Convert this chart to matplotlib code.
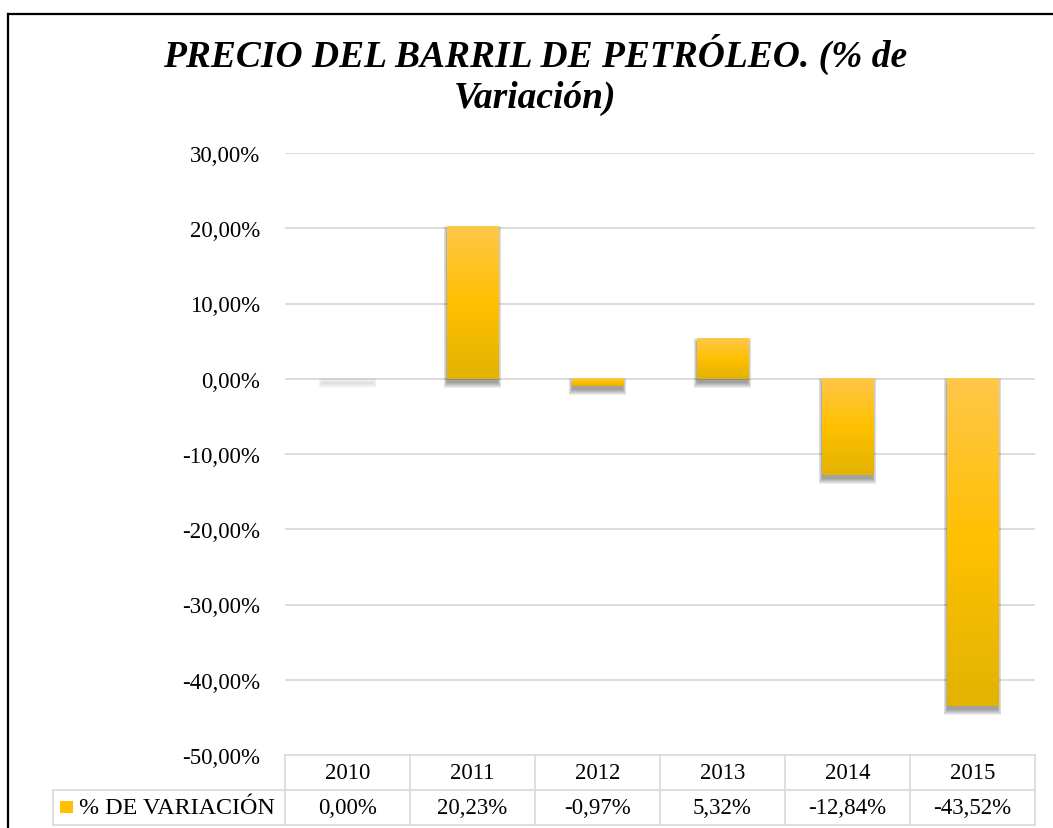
import numpy as np
import matplotlib
matplotlib.use("Agg")
import matplotlib.pyplot as plt
from matplotlib.patches import Rectangle
from matplotlib.colors import LinearSegmentedColormap
from matplotlib.lines import Line2D
import matplotlib.transforms as mtransforms

years = ["2010", "2011", "2012", "2013", "2014", "2015"]
variacion = [0.00, 20.23, -0.97, 5.32, -12.84, -43.52]
yticks = [30, 20, 10, 0, -10, -20, -30, -40, -50]
serie = "% DE VARIACIÓN"
titulo = "PRECIO DEL BARRIL DE PETRÓLEO. (% de\nVariación)"

W, H = 1053, 829
FS = 16.5
plt.rcParams['font.family'] = ['Liberation Serif', 'DejaVu Serif']

fig = plt.figure(figsize=(W / 100, H / 100), dpi=100)
fig.patch.set_facecolor("white")

# plot area in pixels
left, right, top, bottom = 285, 1035, 154, 756
ax = fig.add_axes([left / W, 1 - bottom / H, (right - left) / W, (bottom - top) / H])
for s in ax.spines.values():
    s.set_visible(False)
ax.set_xticks([])
ax.set_yticks(yticks)
ax.set_yticklabels([f"{v:.2f}%".replace(".", ",") for v in yticks], fontsize=FS)
ax.tick_params(axis="y", length=0, pad=18)
for v in yticks[:-1]:
    ax.axhline(v, color="#D9D9D9", lw=1.3, zorder=0)

gold = LinearSegmentedColormap.from_list("gold", ["#E2B300", "#FFC000", "#FFC74A"])
grad = np.linspace(0, 1, 256).reshape(-1, 1)

bw = 0.41
xpx = 1 / 125.0          # data units per pixel (x)
ypx = 80 / 602.0         # data units per pixel (y)
for i, v in enumerate(variacion):
    lo, hi = min(0, v), max(0, v)
    # soft drop shadow, shifted a few pixels down
    a = 0.07 if hi - lo > 0 else 0.025
    for k in range(0, 6):
        ax.add_patch(Rectangle((i - bw / 2 - 0.6 * k * xpx, lo - 4 * ypx - k * ypx),
                               bw + 1.2 * k * xpx, hi - lo + 2 * k * ypx,
                               facecolor="black", edgecolor="none", alpha=a, zorder=1))
    if hi - lo > 0:
        ax.imshow(grad, cmap=gold, origin="lower", aspect="auto",
                  extent=(i - bw / 2, i + bw / 2, lo, hi), zorder=2, interpolation="bicubic")
ax.set_xlim(-0.5, len(years) - 0.5)
ax.set_ylim(-50, 30)

# data table under the plot
tr = mtransforms.blended_transform_factory(ax.transData, ax.transAxes)
r1 = -(790.7 - bottom) / (bottom - top)
r2 = -(826 - bottom) / (bottom - top)
lx = -0.5 - (left - 53) / 125.0
lc = "#D9D9D9"
kw = dict(color=lc, lw=1.2, transform=tr, clip_on=False)
ax.add_line(Line2D([-0.5, 5.5], [0, 0], **kw))
ax.add_line(Line2D([lx, 5.5], [r1, r1], **kw))
ax.add_line(Line2D([lx, 5.5], [r2, r2], **kw))
ax.add_line(Line2D([lx, lx], [r1, r2], **kw))
for j in range(len(years) + 1):
    ax.add_line(Line2D([j - 0.5, j - 0.5], [0, r2], **kw))
for i, (yr, v) in enumerate(zip(years, variacion)):
    ax.text(i, r1 / 2, yr, transform=tr, ha="center", va="center", fontsize=FS)
    ax.text(i, (r1 + r2) / 2, f"{v:.2f}%".replace(".", ","), transform=tr,
            ha="center", va="center", fontsize=FS)

# legend key in the row header
kx = lx + 7 / 125.0
ax.add_patch(Rectangle((kx, (r1 + r2) / 2 - 6 / 602), 13 / 125.0, 12 / 602,
                       transform=tr, clip_on=False, facecolor="#FFC000", edgecolor="none"))
ax.text(kx + 19 / 125.0, (r1 + r2) / 2, serie, transform=tr, ha="left", va="center",
        fontsize=17.3)

fig.text(535 / W, 1 - 34 / H, titulo, ha="center", va="top", fontsize=27,
         fontweight="bold", fontstyle="italic", linespacing=1.2)

# outer frame (cut off at right and bottom)
fk = dict(color="black", lw=1.6, transform=fig.transFigure)
fig.add_artist(Line2D([8 / W, 1.01], [1 - 15 / H, 1 - 15 / H], **fk))
fig.add_artist(Line2D([8 / W, 8 / W], [1 - 15 / H, -0.01], **fk))

fig.savefig("out.png", dpi=100)
